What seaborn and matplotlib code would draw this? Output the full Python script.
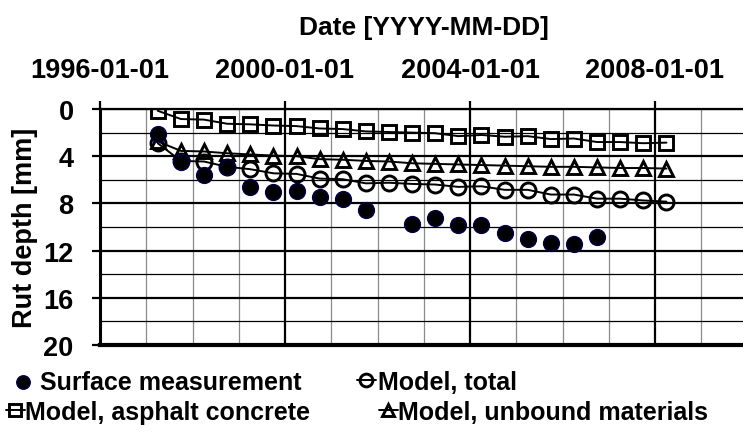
import matplotlib
matplotlib.use("Agg")
import matplotlib.pyplot as plt
import matplotlib.dates as mdates
import seaborn as sns
import pandas as pd
import numpy as np

dates = ["1997-04-01", "1997-10-01", "1998-04-01", "1998-10-01", "1999-04-01",
         "1999-10-01", "2000-04-01", "2000-10-01", "2001-04-01", "2001-10-01",
         "2002-04-01", "2002-10-01", "2003-04-01", "2003-10-01", "2004-04-01",
         "2004-10-01", "2005-04-01", "2005-10-01", "2006-04-01", "2006-10-01",
         "2007-04-01", "2007-10-01", "2008-04-01"]
surface = [2.1, 4.5, 5.6, 4.95, 6.6, 7.0, 6.95, 7.45, 7.65, 8.6,
           np.nan, 9.75, 9.25, 9.85, 9.85, 10.55, 11.0, 11.35, 11.4, 10.85,
           np.nan, np.nan, np.nan]
total = [2.9, 4.4, 4.45, 4.9, 5.1, 5.45, 5.5, 5.9, 5.95, 6.3,
         6.25, 6.35, 6.4, 6.6, 6.55, 6.85, 6.85, 7.25, 7.25, 7.6,
         7.6, 7.75, 7.85]
asphalt = [0.15, 0.85, 0.9, 1.25, 1.3, 1.4, 1.45, 1.65, 1.7, 1.9,
           1.95, 2.0, 2.05, 2.3, 2.2, 2.35, 2.3, 2.55, 2.5, 2.8,
           2.8, 2.9, 2.85]
unbound = [2.75, 3.55, 3.6, 3.75, 3.85, 3.95, 4.0, 4.25, 4.3, 4.4,
           4.45, 4.6, 4.65, 4.7, 4.75, 4.8, 4.85, 4.9, 4.9, 4.95,
           5.0, 5.0, 5.05]
labels = ["Surface measurement", "Model, total",
          "Model, asphalt concrete", "Model, unbound materials"]
x_ticks = ["1996-01-01", "2000-01-01", "2004-01-01", "2008-01-01"]
y_ticks = [0, 4, 8, 12, 16, 20]

df = pd.DataFrame({"date": pd.to_datetime(dates), "surface": surface,
                   "total": total, "asphalt": asphalt, "unbound": unbound})

sns.set_style("white")
plt.rcParams["font.family"] = ["Liberation Sans", "DejaVu Sans"]
plt.rcParams["font.weight"] = "bold"
for k in ["text.color", "axes.labelcolor", "xtick.color", "ytick.color"]:
    plt.rcParams[k] = "black"

W, H = 743, 435
fig = plt.figure(figsize=(W / 100, H / 100), dpi=100)
ax = fig.add_axes([100 / W, 1 - 346 / H, 647.5 / W, 236 / H])

line_kw = dict(color="black", linewidth=1.4, markerfacecolor="none",
               markeredgecolor="black", markeredgewidth=2.1)
sns.lineplot(data=df, x="date", y="asphalt", ax=ax, marker="s",
             markersize=9.6, label=labels[2], **line_kw)
sns.lineplot(data=df, x="date", y="unbound", ax=ax, marker="^",
             markersize=10.5, label=labels[3], **line_kw)
sns.lineplot(data=df, x="date", y="total", ax=ax, marker="o",
             markersize=10.8, label=labels[1], **line_kw)
sns.scatterplot(data=df, x="date", y="surface", ax=ax, s=130,
                color="black", edgecolor="#000050", linewidth=1,
                label=labels[0], zorder=5)

handles, labs = ax.get_legend_handles_labels()
hmap = dict(zip(labs, handles))
ax.get_legend().remove()

ax.set_xlim(pd.Timestamp("1996-01-01"), pd.Timestamp("2010-01-01"))
ax.set_ylim(20, 0)
ax.set_yticks(y_ticks)
ax.set_yticks([2, 6, 10, 14, 18], minor=True)
ax.set_xticks(pd.to_datetime(x_ticks))
ax.xaxis.set_minor_locator(mdates.YearLocator(1))
ax.xaxis.set_major_formatter(mdates.DateFormatter("%Y-%m-%d"))
ax.xaxis.tick_top()
ax.xaxis.set_label_position("top")

ax.set_axisbelow(True)
ax.grid(True, which="major", axis="both", color="black", linewidth=1.6)
ax.grid(True, which="minor", axis="y", color="black", linewidth=0.9)
ax.grid(True, which="minor", axis="x", color="#8a8a8a", linewidth=0.9)

ax.spines["right"].set_visible(False)
ax.spines["left"].set_linewidth(2.2)
ax.spines["bottom"].set_linewidth(3.0)
ax.spines["top"].set_linewidth(1.6)
for s in ax.spines.values():
    s.set_color("black")

ax.tick_params(axis="x", which="major", direction="out", length=6, width=1.6,
               pad=13, labelsize=19.5, top=True, bottom=False, color="black")
ax.tick_params(axis="x", which="minor", length=0, top=False, bottom=False)
ax.tick_params(axis="y", which="major", direction="out", length=6, width=1.6,
               pad=13, labelsize=19.5, left=True, color="black")
ax.tick_params(axis="y", which="minor", length=0)
for t in ax.get_xticklabels() + ax.get_yticklabels():
    t.set_fontweight("bold")

ax.set_xlabel("Date [YYYY-MM-DD]", fontsize=19, fontweight="bold", labelpad=16)
ax.set_ylabel("Rut depth [mm]", fontsize=19.5, fontweight="bold", labelpad=4)

# legend entries positioned individually
entries = [
    (labels[0], 14, 383, 0.3),
    (labels[1], 357, 383, 0.1),
    (labels[2], 6, 413, 0.0),
    (labels[3], 379, 413, 0.0),
]
for lab, px, py, pad in entries:
    fig.legend(handles=[hmap[lab]], labels=[lab], loc="center left",
               bbox_to_anchor=(px / W, 1 - py / H), bbox_transform=fig.transFigure,
               frameon=False, borderpad=0, borderaxespad=0, handlelength=0.75,
               handletextpad=pad, markerscale=0.85,
               prop={"size": 18, "weight": "bold"})

fig.savefig("out.png", dpi=100)
